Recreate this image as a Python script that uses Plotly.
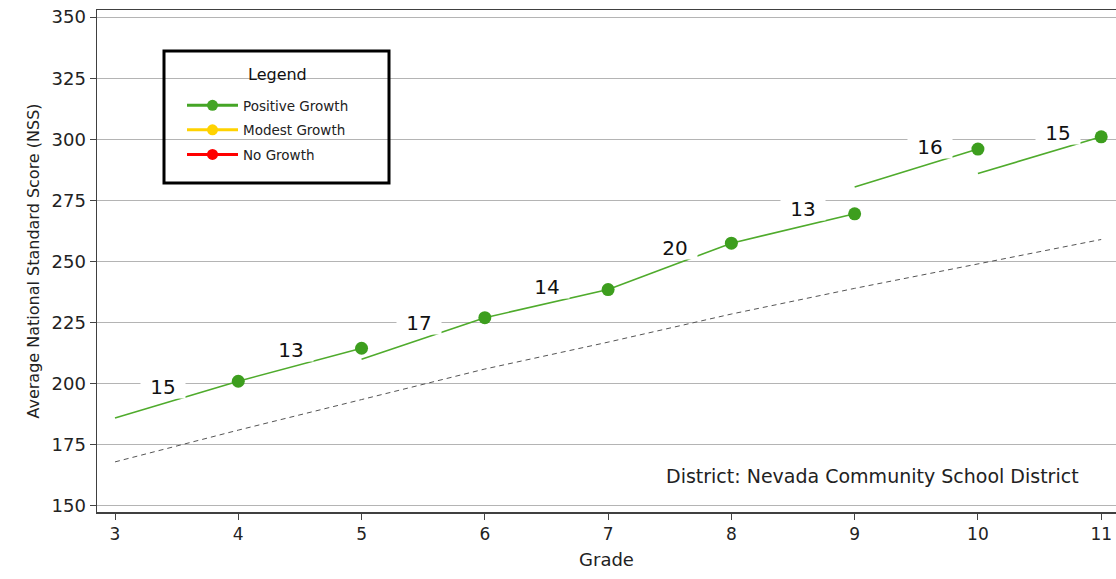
import plotly.graph_objects as go

# ---- data ----
grades = [3, 4, 5, 6, 7, 8, 9, 10, 11]
start_grades = [3, 4, 5, 6, 7, 8, 9, 10]
start_scores = [186, 201, 210, 227, 238.5, 257.5, 280.5, 286]
end_scores = [201, 214.5, 227, 238.5, 257.5, 269.5, 296, 301]
growth_labels = ["15", "13", "17", "14", "20", "13", "16", "15"]
expected_scores = [168, 181, 193.5, 206, 217, 228.5, 239, 249, 259]
legend_names = ["Positive Growth", "Modest Growth", "No Growth"]
legend_colors = ["#45a526", "#ffd200", "#ff0000"]
y_ticks = [150, 175, 200, 225, 250, 275, 300, 325, 350]

GREEN_LINE = "#4fab2c"
GREEN_DOT = "#3d9e1e"
FONT = "DejaVu Sans, Liberation Sans, Arial, sans-serif"

W, H = 1116, 579
ML, MT, MB, MR = 97, 10, 67, 0
PW, PH = W - ML - MR, H - MT - MB


def px(xp):  # page x -> paper fraction
    return (xp - ML) / PW


def py(yp):  # page y -> paper fraction
    return 1 - (yp - MT) / PH


fig = go.Figure()

# expected growth dashed line
fig.add_trace(go.Scatter(
    x=grades, y=expected_scores, mode="lines",
    line=dict(color="#555555", width=1, dash="5px,4px"),
    showlegend=False, hoverinfo="skip"))

# growth segments
seg_x, seg_y = [], []
for g, s, e in zip(start_grades, start_scores, end_scores):
    seg_x += [g, g + 1, None]
    seg_y += [s, e, None]
fig.add_trace(go.Scatter(
    x=seg_x, y=seg_y, mode="lines",
    line=dict(color=GREEN_LINE, width=1.6),
    showlegend=False, hoverinfo="skip"))

# end points
fig.add_trace(go.Scatter(
    x=[g + 1 for g in start_grades], y=end_scores, mode="markers",
    marker=dict(color=GREEN_DOT, size=13),
    showlegend=False))

# legend entries
for i, (name, col) in enumerate(zip(legend_names, legend_colors)):
    fig.add_trace(go.Scatter(
        x=[None], y=[None], mode="lines+markers", name=name,
        legendgroup=f"g{i}",
        line=dict(color=col, width=3),
        marker=dict(color=col, size=11)))

# growth labels
annotations = []
for i, (g, s, e, lab) in enumerate(zip(start_grades, start_scores, end_scores, growth_labels)):
    t = 0.39 + 0.0375 * i
    annotations.append(dict(
        x=g + t, y=s + (e - s) * t, xref="x", yref="y",
        text=lab, showarrow=False, yshift=17,
        font=dict(family=FONT, size=20, color="#111111"),
        bgcolor="white", width=44, height=22, borderpad=0))

annotations.append(dict(
    x=px(1081), y=py(476), xref="paper", yref="paper",
    xanchor="right", yanchor="middle", showarrow=False,
    text="District: Nevada Community School District",
    font=dict(family=FONT, size=19, color="#222222")))

annotations.append(dict(
    x=px(277), y=py(74), xref="paper", yref="paper",
    xanchor="center", yanchor="middle", showarrow=False,
    text="Legend",
    font=dict(family=FONT, size=16, color="#111111")))

fig.update_layout(
    width=W, height=H,
    margin=dict(l=ML, r=MR, t=MT, b=MB),
    paper_bgcolor="white", plot_bgcolor="white",
    font=dict(family=FONT, color="#222222"),
    annotations=annotations,
    showlegend=True,
    legend=dict(
        x=px(182), y=py(90), xanchor="left", yanchor="top",
        bgcolor="rgba(0,0,0,0)", borderwidth=0,
        font=dict(family=FONT, size=13.5, color="#222222"),
        itemwidth=51, tracegroupgap=4),
    shapes=[dict(
        type="rect", xref="paper", yref="paper",
        x0=px(164), x1=px(389), y0=py(183), y1=py(51),
        line=dict(color="black", width=3), fillcolor="rgba(0,0,0,0)",
        layer="above")],
    hovermode=False,
)

fig.update_xaxes(
    range=[2.854, 11.12], tickmode="array", tickvals=grades,
    ticktext=[str(g) for g in grades],
    ticks="outside", ticklen=6, tickcolor="#444444",
    showline=True, linecolor="#404040", linewidth=1.5, mirror=True,
    showgrid=False, zeroline=False, ticklabeloverflow="allow",
    tickfont=dict(family=FONT, size=17, color="#222222"),
    title=dict(text="Grade", font=dict(family=FONT, size=18, color="#222222"),
               standoff=10))

fig.update_yaxes(
    range=[147.5, 352.9], tickmode="array", tickvals=y_ticks,
    ticks="outside", ticklen=6, tickcolor="#444444",
    showline=True, linecolor="#404040", linewidth=1.5,
    showgrid=True, gridcolor="#b4b4b4", gridwidth=1, zeroline=False,
    ticklabeloverflow="allow",
    tickfont=dict(family=FONT, size=18, color="#222222"),
    title=dict(text="Average National Standard Score (NSS)",
               font=dict(family=FONT, size=16, color="#222222"),
               standoff=8))

fig.write_html("out.html",
               config={"displayModeBar": False, "staticPlot": True},
               post_script="document.body.style.margin='0px';"
                           "document.body.style.overflow='hidden';")
